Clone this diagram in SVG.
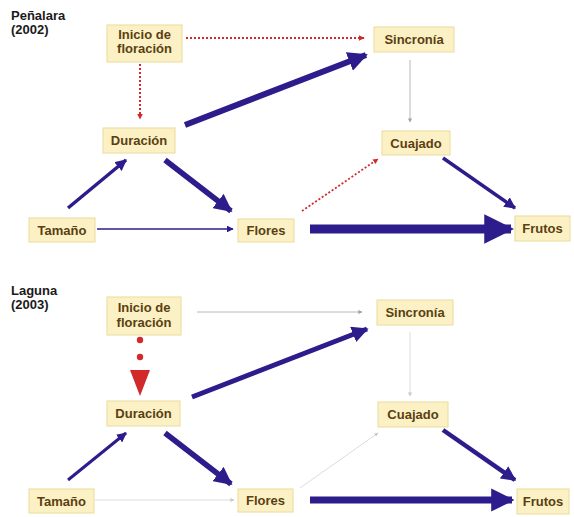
<svg xmlns="http://www.w3.org/2000/svg" width="574" height="517" viewBox="0 0 574 517">
<defs>
<style>
.box{fill:#fcf1c4;stroke:#eadb9c;stroke-width:1}
.lbl{font-family:"Liberation Sans",Arial,sans-serif;font-weight:bold;font-size:13px;fill:#5a3f12;text-anchor:middle}
.ttl{font-family:"Liberation Sans",Arial,sans-serif;font-weight:bold;font-size:13px;fill:#1a1a1a}
.navy{stroke:#2d1c8c;fill:none}
.red{stroke:#d22a2a;fill:none;stroke-dasharray:2 2}
.grey{stroke:#b8b8b8;fill:none}
.faint{stroke:#dcdcdc;fill:none}
</style>
<marker id="an" viewBox="0 0 10 10" refX="9" refY="5" markerWidth="3.3" markerHeight="3.3" orient="auto" markerUnits="strokeWidth"><path d="M0,0L10,5L0,10z" fill="#2d1c8c"/></marker>
<marker id="ans" viewBox="0 0 10 10" refX="9" refY="5" markerWidth="4.5" markerHeight="4.5" orient="auto" markerUnits="strokeWidth"><path d="M0,0L10,5L0,10z" fill="#2d1c8c"/></marker>
<marker id="ar" viewBox="0 0 10 10" refX="9" refY="5" markerWidth="3" markerHeight="3" orient="auto" markerUnits="strokeWidth"><path d="M0,0L10,5L0,10z" fill="#d22a2a"/></marker>
<marker id="ag" viewBox="0 0 10 10" refX="9" refY="5" markerWidth="4" markerHeight="4" orient="auto" markerUnits="strokeWidth"><path d="M0,0L10,5L0,10z" fill="#a0a0a0"/></marker>
<marker id="af" viewBox="0 0 10 10" refX="9" refY="5" markerWidth="4" markerHeight="4" orient="auto" markerUnits="strokeWidth"><path d="M0,0L10,5L0,10z" fill="#c8c8c8"/></marker>
</defs>
<rect width="574" height="517" fill="#ffffff"/>
<text class="ttl" x="11" y="20">Peñalara</text>
<text class="ttl" x="11" y="34">(2002)</text>
<text class="ttl" x="11" y="295">Laguna</text>
<text class="ttl" x="11" y="309">(2003)</text>
<g id="connectors">
<!-- top panel -->
<line class="red" x1="186" y1="38" x2="364" y2="38" stroke-width="2" marker-end="url(#ar)"/>
<line class="red" x1="140" y1="64" x2="140" y2="119" stroke-width="2" marker-end="url(#ar)"/>
<line class="navy" x1="185" y1="125" x2="366" y2="55" stroke-width="6" marker-end="url(#an)"/>
<line class="navy" x1="68" y1="208" x2="126" y2="160" stroke-width="3.5" marker-end="url(#an)"/>
<line class="navy" x1="165" y1="160" x2="231" y2="211" stroke-width="5.5" marker-end="url(#an)"/>
<line class="navy" x1="97" y1="229" x2="233" y2="229" stroke-width="1.5" marker-end="url(#ans)"/>
<line class="navy" x1="310" y1="229" x2="511" y2="229" stroke-width="9" marker-end="url(#an)"/>
<line class="grey" x1="410" y1="60" x2="410" y2="122" stroke-width="1" marker-end="url(#ag)"/>
<line class="red" x1="302" y1="211" x2="378" y2="159" stroke-width="1.8" marker-end="url(#ar)"/>
<line class="navy" x1="443" y1="158" x2="515" y2="208" stroke-width="3.5" marker-end="url(#an)"/>
<!-- bottom panel -->
<line class="grey" x1="197" y1="312" x2="362" y2="312" stroke-width="1" marker-end="url(#ag)"/>
<circle cx="140" cy="340" r="3.2" fill="#d22a2a"/>
<circle cx="140" cy="357" r="3.2" fill="#d22a2a"/>
<path d="M130,370L150,370L140,396z" fill="#d22a2a"/>
<line class="navy" x1="192" y1="397" x2="367" y2="329" stroke-width="5" marker-end="url(#an)"/>
<line class="navy" x1="68" y1="480" x2="126" y2="433" stroke-width="3" marker-end="url(#an)"/>
<line class="navy" x1="165" y1="433" x2="231" y2="484" stroke-width="5.5" marker-end="url(#an)"/>
<line class="faint" x1="95" y1="500" x2="234" y2="500" stroke-width="1" marker-end="url(#af)"/>
<line class="navy" x1="310" y1="500" x2="512" y2="500" stroke-width="7" marker-end="url(#an)"/>
<line class="faint" x1="410" y1="332" x2="410" y2="396" stroke-width="1" marker-end="url(#af)"/>
<line class="faint" x1="300" y1="488" x2="378" y2="433" stroke-width="1" marker-end="url(#af)"/>
<line class="navy" x1="443" y1="430" x2="515" y2="480" stroke-width="4.5" marker-end="url(#an)"/>
</g>
<!-- top nodes -->
<g id="inicio1"><rect class="box" x="107" y="25" width="75" height="37"/><text class="lbl" x="144.5" y="39">Inicio de</text><text class="lbl" x="144.5" y="53">floración</text></g>
<g id="sincronia1"><rect class="box" x="374" y="27" width="80" height="25"/><text class="lbl" x="414" y="44">Sincronía</text></g>
<g id="duracion1"><rect class="box" x="103" y="128" width="72" height="25"/><text class="lbl" x="139" y="145">Duración</text></g>
<g id="cuajado1"><rect class="box" x="382" y="131" width="68" height="24"/><text class="lbl" x="416" y="148">Cuajado</text></g>
<g id="tamano1"><rect class="box" x="29" y="218" width="66" height="24"/><text class="lbl" x="62" y="235">Tamaño</text></g>
<g id="flores1"><rect class="box" x="238" y="219" width="56" height="23"/><text class="lbl" x="266" y="235">Flores</text></g>
<g id="frutos1"><rect class="box" x="515" y="216" width="55" height="25"/><text class="lbl" x="542.5" y="233">Frutos</text></g>
<!-- bottom nodes -->
<g id="inicio2"><rect class="box" x="107" y="297" width="74" height="38"/><text class="lbl" x="144" y="312">Inicio de</text><text class="lbl" x="144" y="327">floración</text></g>
<g id="sincronia2"><rect class="box" x="377" y="300" width="76" height="25"/><text class="lbl" x="415" y="317">Sincronía</text></g>
<g id="duracion2"><rect class="box" x="107" y="401" width="73" height="25"/><text class="lbl" x="143.5" y="418">Duración</text></g>
<g id="cuajado2"><rect class="box" x="378" y="402" width="70" height="25"/><text class="lbl" x="413" y="419">Cuajado</text></g>
<g id="tamano2"><rect class="box" x="29" y="489" width="65" height="24"/><text class="lbl" x="61.5" y="506">Tamaño</text></g>
<g id="flores2"><rect class="box" x="238" y="489" width="55" height="23"/><text class="lbl" x="265.5" y="505">Flores</text></g>
<g id="frutos2"><rect class="box" x="517" y="489" width="52" height="25"/><text class="lbl" x="543" y="506">Frutos</text></g>
</svg>
